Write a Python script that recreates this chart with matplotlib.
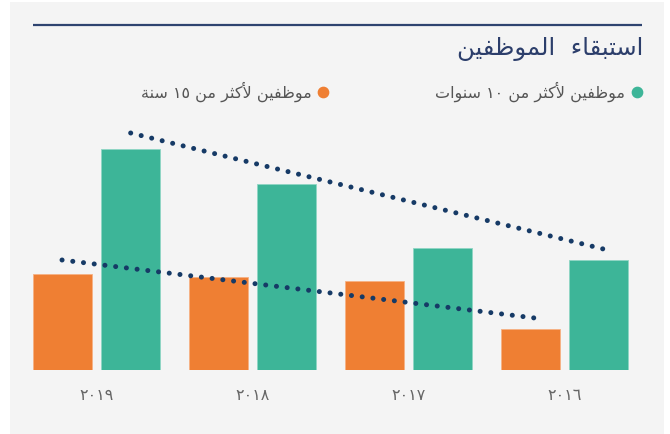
import re
import matplotlib
matplotlib.use("Agg")
import matplotlib.pyplot as plt
from matplotlib.patches import Rectangle

# ---------------- data ----------------
years = ["٢٠١٩", "٢٠١٨", "٢٠١٧", "٢٠١٦"]
over10 = [221, 186, 122, 110]      # green
over15 = [96, 93, 89, 41]          # orange
trend10 = [237, 121]               # dotted trend (start, end)
trend15 = [110, 52]
title = "استبقاء  الموظفين"
label10 = "موظفين لأكثر من ١٠ سنوات"
label15 = "موظفين لأكثر من ١٥ سنة"

# ---------------- minimal Arabic shaping ----------------
FORMS = {
    'ا': ('\uFE8D', '\uFE8E', None, None),
    'أ': ('\uFE83', '\uFE84', None, None),
    'ء': ('\uFE80', None, None, None),
    'ب': ('\uFE8F', '\uFE90', '\uFE91', '\uFE92'),
    'ة': ('\uFE93', '\uFE94', None, None),
    'ت': ('\uFE95', '\uFE96', '\uFE97', '\uFE98'),
    'ث': ('\uFE99', '\uFE9A', '\uFE9B', '\uFE9C'),
    'ر': ('\uFEAD', '\uFEAE', None, None),
    'س': ('\uFEB1', '\uFEB2', '\uFEB3', '\uFEB4'),
    'ظ': ('\uFEC5', '\uFEC6', '\uFEC7', '\uFEC8'),
    'ف': ('\uFED1', '\uFED2', '\uFED3', '\uFED4'),
    'ق': ('\uFED5', '\uFED6', '\uFED7', '\uFED8'),
    'ك': ('\uFED9', '\uFEDA', '\uFEDB', '\uFEDC'),
    'ل': ('\uFEDD', '\uFEDE', '\uFEDF', '\uFEE0'),
    'م': ('\uFEE1', '\uFEE2', '\uFEE3', '\uFEE4'),
    'ن': ('\uFEE5', '\uFEE6', '\uFEE7', '\uFEE8'),
    'و': ('\uFEED', '\uFEEE', None, None),
    'ي': ('\uFEF1', '\uFEF2', '\uFEF3', '\uFEF4'),
}
LAM_ALEF = {'أ': ('\uFEF7', '\uFEF8', None, None),
            'ا': ('\uFEFB', '\uFEFC', None, None)}


def shape(text):
    toks = []
    i = 0
    while i < len(text):
        c = text[i]
        if c == 'ل' and i + 1 < len(text) and text[i + 1] in LAM_ALEF:
            toks.append(LAM_ALEF[text[i + 1]])
            i += 2
            continue
        toks.append(FORMS.get(c, c))
        i += 1
    out = []
    for k, t in enumerate(toks):
        if isinstance(t, str):
            out.append(t)
            continue
        prev = toks[k - 1] if k > 0 else None
        nxt = toks[k + 1] if k + 1 < len(toks) else None
        jp = isinstance(prev, tuple) and prev[2] is not None and t[1] is not None
        jn = isinstance(nxt, tuple) and t[2] is not None and nxt[1] is not None
        if jp and jn:
            out.append(t[3])
        elif jp:
            out.append(t[1])
        elif jn:
            out.append(t[2])
        else:
            out.append(t[0])
    s = ''.join(out)[::-1]
    return re.sub('[\u0660-\u0669]+', lambda m: m.group(0)[::-1], s)


plt.rcParams['font.family'] = ['DejaVu Sans']

W, H = 670, 434
fig = plt.figure(figsize=(W / 100, H / 100), dpi=100, facecolor='white')

# overlay in pixel coordinates for decoration
ov = fig.add_axes([0, 0, 1, 1])
ov.set_xlim(0, W)
ov.set_ylim(H, 0)
ov.axis('off')
ov.add_patch(Rectangle((10, 2), 654, 432, facecolor='#f4f4f4', edgecolor='none'))
ov.plot([33, 642], [25, 25], color='#2e4470', lw=1.6, solid_capstyle='butt')
ov.text(643, 49, shape(title), ha='right', va='center', fontsize=17.5, color='#2c3e6b')

GREEN = '#3db598'
ORANGE = '#ef7f33'
ov.scatter([637], [92], s=55, color=GREEN, zorder=3)
ov.text(625, 92, shape(label10), ha='right', va='center', fontsize=11.5, color='#555555')
ov.scatter([323], [92], s=55, color=ORANGE, zorder=3)
ov.text(312, 92, shape(label15), ha='right', va='center', fontsize=11.5, color='#555555')

# main axes: baseline at y=370 px from top, 156 px per group
left = (96.35 - 78) / W
ax = fig.add_axes([left, (H - 370) / H, 624 / W, 300 / H])
ax.set_xlim(-0.5, 3.5)
ax.set_ylim(0, 300)
ax.patch.set_alpha(0)
for s in ax.spines.values():
    s.set_visible(False)
ax.set_yticks([])

x = list(range(len(years)))
off = 0.22
wd = 0.378
ax.bar([v - off for v in x], over15, width=wd, color=ORANGE, edgecolor='#f6b184', linewidth=0.6, zorder=2)
ax.bar([v + off for v in x], over10, width=wd, color=GREEN, edgecolor='#8fd6c4', linewidth=0.6, zorder=2)

dot = dict(color='#163a66', lw=3.6, linestyle=(0, (0.01, 2.15)), dash_capstyle='round', zorder=3)
ax.plot([x[0] + off, x[-1] + off + 0.03], trend10, **dot)
ax.plot([x[0] - off, x[-1] - off + 0.03], trend15, **dot)

ax.set_xticks(x)
ax.set_xticklabels(years, fontsize=11.5, color='#666666')
ax.tick_params(axis='x', length=0, pad=13)

fig.savefig('out.png', dpi=100, facecolor=fig.get_facecolor())
